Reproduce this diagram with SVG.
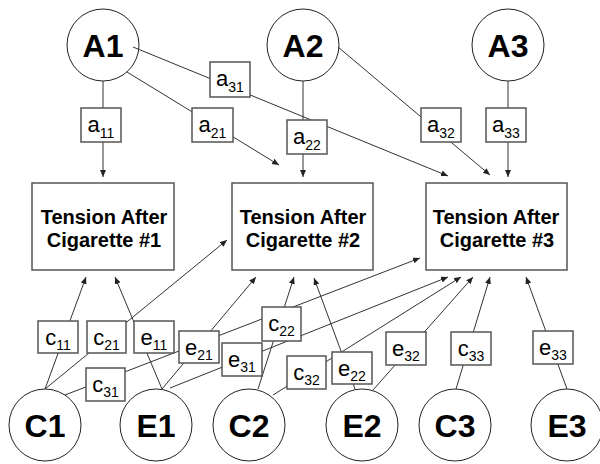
<svg xmlns="http://www.w3.org/2000/svg" width="600" height="464" viewBox="0 0 600 464">
<style>
.bg{fill:#ffffff}
.circ{fill:#ffffff;stroke:#222;stroke-width:1}
.big{fill:#ffffff;stroke:#555;stroke-width:1.5}
.lab{fill:#ffffff;stroke:#555;stroke-width:1.5}
.ln{stroke:#333;stroke-width:1;fill:none;marker-end:url(#arr)}
.ct{font-family:"Liberation Sans",Arial,sans-serif;font-weight:bold;font-size:32px;text-anchor:middle;fill:#000}
.bt{font-family:"Liberation Sans",Arial,sans-serif;font-weight:bold;font-size:20px;text-anchor:middle;fill:#000}
.lt{font-family:"Liberation Sans",Arial,sans-serif;font-size:22px;text-anchor:middle;fill:#000}
.sub{font-size:14px}
</style>
<defs>
<marker id="arr" markerUnits="userSpaceOnUse" markerWidth="8" markerHeight="7" refX="7" refY="3" orient="auto">
<path d="M0,0 L7,3 L0,6 z" fill="#222"/>
</marker>
</defs>
<rect class="bg" x="0" y="0" width="600" height="464"/>

<g id="latent-circles">
<g id="A1"><circle class="circ" cx="103" cy="45" r="36"/><text class="ct" x="103" y="57">A1</text></g>
<g id="A2"><circle class="circ" cx="303" cy="45" r="36"/><text class="ct" x="303" y="57">A2</text></g>
<g id="A3"><circle class="circ" cx="508" cy="45" r="36"/><text class="ct" x="508" y="57">A3</text></g>
<g id="C1"><circle class="circ" cx="45" cy="425" r="36"/><text class="ct" x="45" y="437">C1</text></g>
<g id="E1"><circle class="circ" cx="156" cy="425" r="36"/><text class="ct" x="156" y="437">E1</text></g>
<g id="C2"><circle class="circ" cx="249" cy="425" r="36"/><text class="ct" x="249" y="437">C2</text></g>
<g id="E2"><circle class="circ" cx="362" cy="425" r="36"/><text class="ct" x="362" y="437">E2</text></g>
<g id="C3"><circle class="circ" cx="455" cy="425" r="36"/><text class="ct" x="455" y="437">C3</text></g>
<g id="E3"><circle class="circ" cx="567" cy="425" r="36"/><text class="ct" x="567" y="437">E3</text></g>
</g>

<g id="connectors">
<line class="ln" x1="103" y1="81" x2="103" y2="177"/>
<line class="ln" x1="127" y1="72" x2="279" y2="165"/>
<line class="ln" x1="133" y1="47" x2="448" y2="176"/>
<line class="ln" x1="303" y1="81" x2="303" y2="177"/>
<line class="ln" x1="338" y1="47" x2="490" y2="175"/>
<line class="ln" x1="508" y1="81" x2="508" y2="177"/>
<line class="ln" x1="45" y1="389" x2="86" y2="277"/>
<line class="ln" x1="45" y1="389" x2="227" y2="240"/>
<line class="ln" x1="65" y1="395" x2="420" y2="258"/>
<line class="ln" x1="162" y1="389" x2="115" y2="277"/>
<line class="ln" x1="162" y1="389" x2="256" y2="277"/>
<line class="ln" x1="170" y1="388" x2="448" y2="277"/>
<line class="ln" x1="258" y1="389" x2="294" y2="277"/>
<line class="ln" x1="273" y1="395" x2="461" y2="277"/>
<line class="ln" x1="355" y1="389" x2="314" y2="278"/>
<line class="ln" x1="373" y1="390" x2="473" y2="277"/>
<line class="ln" x1="456" y1="389" x2="490" y2="277"/>
<line class="ln" x1="567" y1="389" x2="526" y2="277"/>
</g>

<g id="T1"><rect class="big" x="32" y="183" width="142" height="87"/><text class="bt" x="104" y="224">Tension After</text><text class="bt" x="104" y="247">Cigarette #1</text></g>
<g id="T2"><rect class="big" x="232" y="183" width="141" height="87"/><text class="bt" x="303" y="224">Tension After</text><text class="bt" x="303" y="247">Cigarette #2</text></g>
<g id="T3"><rect class="big" x="426" y="183" width="141" height="87"/><text class="bt" x="496" y="224">Tension After</text><text class="bt" x="497" y="247">Cigarette #3</text></g>

<g id="a11"><rect class="lab" x="81" y="108" width="40" height="34"/><text class="lt" x="101" y="132">a<tspan class="sub" dy="6">11</tspan></text></g>
<g id="a21"><rect class="lab" x="192" y="108" width="41" height="34"/><text class="lt" x="212.5" y="132">a<tspan class="sub" dy="6">21</tspan></text></g>
<g id="a31"><rect class="lab" x="210" y="62" width="40" height="35"/><text class="lt" x="230" y="86">a<tspan class="sub" dy="6">31</tspan></text></g>
<g id="a22"><rect class="lab" x="287" y="120" width="40" height="34"/><text class="lt" x="307" y="144">a<tspan class="sub" dy="6">22</tspan></text></g>
<g id="a32"><rect class="lab" x="421" y="108" width="40" height="34"/><text class="lt" x="441" y="132">a<tspan class="sub" dy="6">32</tspan></text></g>
<g id="a33"><rect class="lab" x="486" y="108" width="40" height="34"/><text class="lt" x="506" y="132">a<tspan class="sub" dy="6">33</tspan></text></g>

<g id="c11"><rect class="lab" x="38" y="321" width="40" height="32"/><text class="lt" x="58" y="345">c<tspan class="sub" dy="5">11</tspan></text></g>
<g id="c21"><rect class="lab" x="87" y="321" width="39" height="32"/><text class="lt" x="106.5" y="345">c<tspan class="sub" dy="5">21</tspan></text></g>
<g id="e11"><rect class="lab" x="134" y="321" width="40" height="32"/><text class="lt" x="154" y="345">e<tspan class="sub" dy="5">11</tspan></text></g>
<g id="e21"><rect class="lab" x="179" y="331" width="40" height="32"/><text class="lt" x="199" y="355">e<tspan class="sub" dy="5">21</tspan></text></g>
<g id="e31"><rect class="lab" x="222" y="343" width="40" height="33"/><text class="lt" x="242" y="367">e<tspan class="sub" dy="5">31</tspan></text></g>
<g id="c31"><rect class="lab" x="86" y="368" width="39" height="33"/><text class="lt" x="105.5" y="392">c<tspan class="sub" dy="5">31</tspan></text></g>
<g id="c22"><rect class="lab" x="262" y="307" width="39" height="34"/><text class="lt" x="281.5" y="331">c<tspan class="sub" dy="5">22</tspan></text></g>
<g id="c32"><rect class="lab" x="287" y="356" width="39" height="33"/><text class="lt" x="306.5" y="380">c<tspan class="sub" dy="5">32</tspan></text></g>
<g id="e22"><rect class="lab" x="332" y="352" width="40" height="32"/><text class="lt" x="352" y="376">e<tspan class="sub" dy="5">22</tspan></text></g>
<g id="e32"><rect class="lab" x="386" y="332" width="40" height="33"/><text class="lt" x="406" y="356">e<tspan class="sub" dy="5">32</tspan></text></g>
<g id="c33"><rect class="lab" x="451" y="332" width="40" height="33"/><text class="lt" x="471" y="356">c<tspan class="sub" dy="5">33</tspan></text></g>
<g id="e33"><rect class="lab" x="533" y="331" width="40" height="33"/><text class="lt" x="553" y="355">e<tspan class="sub" dy="5">33</tspan></text></g>
</svg>
